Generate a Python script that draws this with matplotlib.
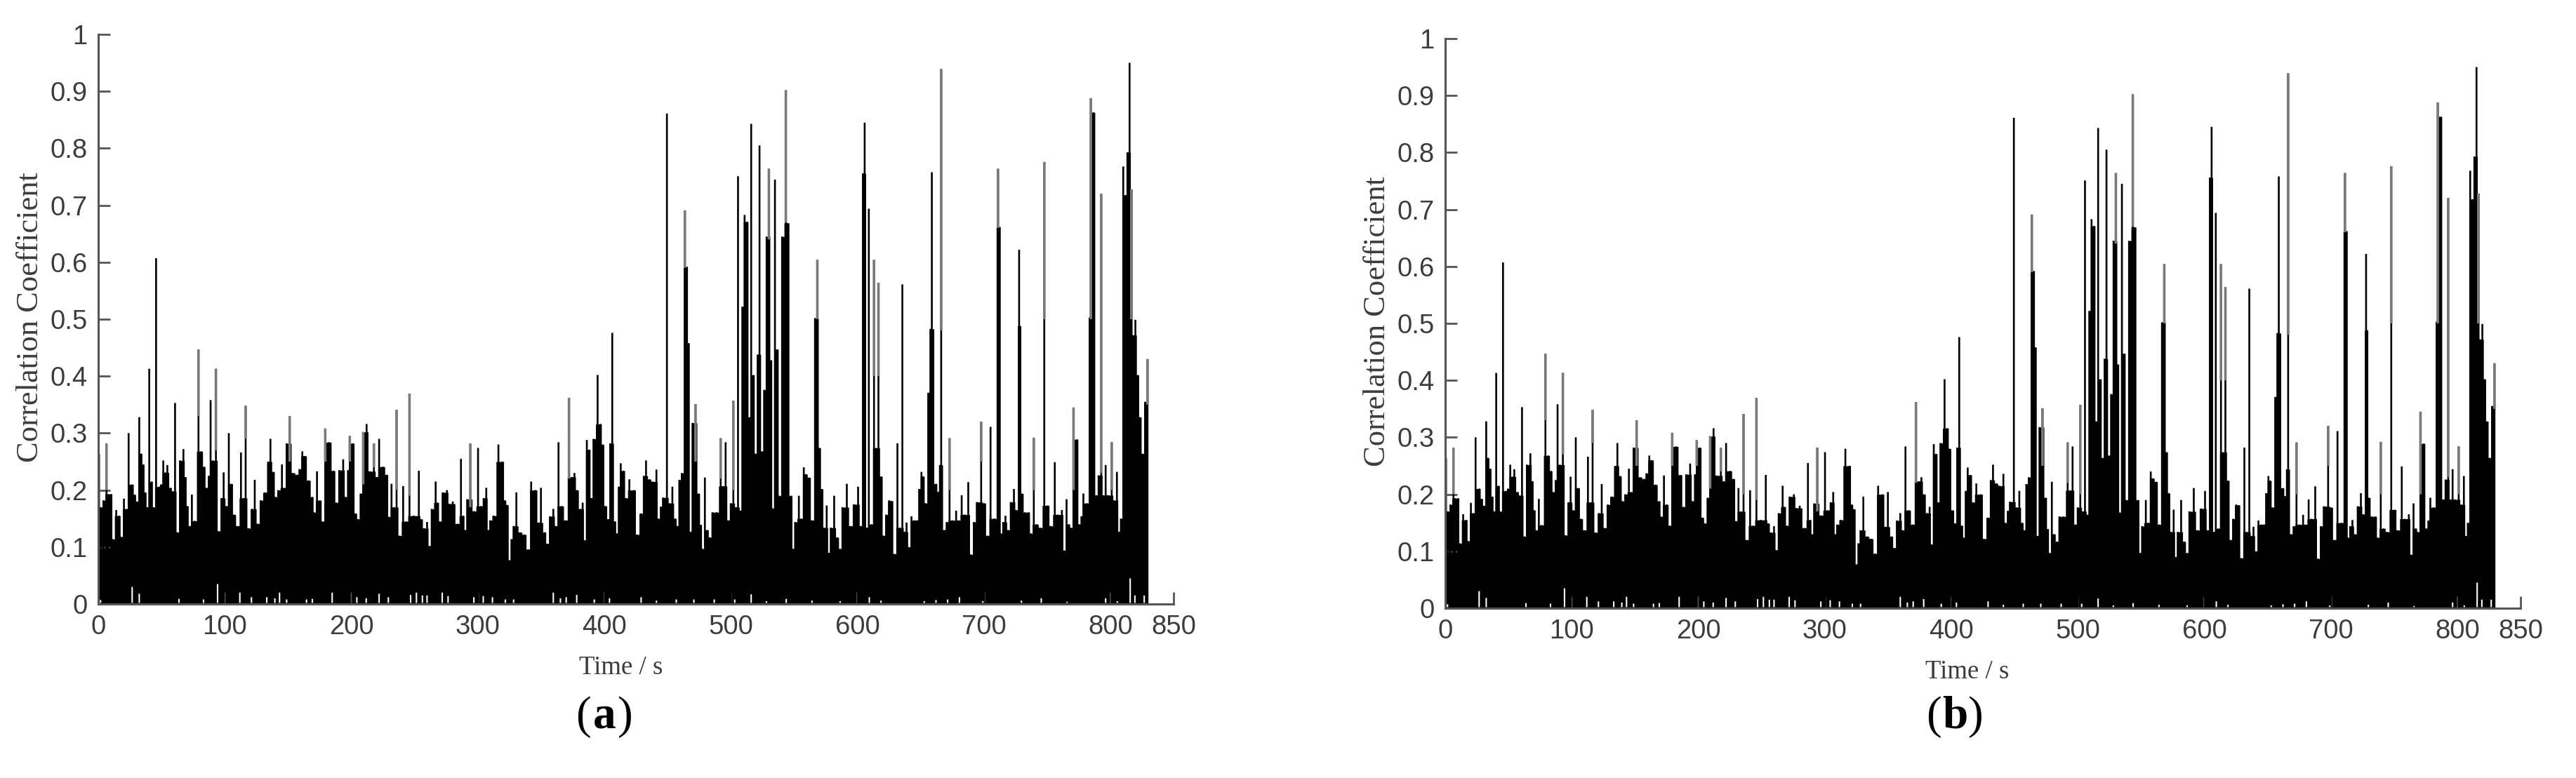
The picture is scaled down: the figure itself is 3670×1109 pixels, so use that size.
#!/usr/bin/env python3
"""
Correlation coefficient over time, two panels (a) and (b)
"""

import matplotlib
matplotlib.use("Agg")
import matplotlib.pyplot as plt
import numpy as np

W, H = 3670, 1109

# spike tops
time_s = [
    0.0, 2.2, 4.1, 6.5, 7.8, 10.2, 11.5, 14.2, 16.6, 18.1, 20.3, 22.2, 24.0, 26.8, 28.7, 30.5,
    32.4, 33.7, 35.5, 37.0, 38.8, 40.3, 42.2, 43.5, 45.7, 48.1, 49.6, 51.4, 53.3, 54.6, 57.0, 58.8,
    60.7, 62.5, 64.7, 67.3, 68.8, 70.3, 72.1, 74.0, 76.2, 79.2, 81.4, 83.6, 85.4, 87.3, 88.8, 90.6,
    93.0, 95.2, 97.5, 99.1, 101.4, 103.2, 105.1, 107.3, 110.0, 112.8, 115.0, 116.5, 118.7, 121.7,
    123.7, 126.1, 128.5, 131.7, 134.6, 136.1, 138.3, 140.2, 142.4, 145.2, 147.0, 148.9, 151.3, 153.9,
    157.2, 159.1, 161.3, 163.1, 166.1, 169.2, 170.5, 172.9, 175.1, 177.5, 179.4, 182.4, 185.9, 188.3,
    190.5, 193.6, 195.5, 197.5, 198.8, 201.2, 203.4, 205.3, 207.5, 209.4, 212.1, 214.5,
    217.9, 220.1, 222.0, 225.1, 227.9, 229.9, 231.8, 233.6, 235.8, 238.2, 241.0, 243.4, 246.0, 249.3,
    253.4, 255.2, 257.5, 259.9, 261.7, 263.6, 266.7, 268.2, 270.0, 272.4, 275.6, 277.4, 280.2, 283.9,
    286.7, 288.5, 289.8, 291.7, 294.1, 297.0, 300.2, 302.4, 304.8, 306.7, 308.3, 309.8, 312.6, 316.3,
    319.6, 321.3, 323.1, 325.2, 326.6, 328.3, 330.5, 333.3, 336.6, 339.9, 342.2, 345.5, 348.1, 349.9,
    352.9, 354.7, 357.3, 359.7, 361.6, 363.8, 366.2, 369.5, 372.1, 374.5, 376.4, 378.2, 381.0, 382.9,
    384.3, 386.2, 388.0, 389.7, 391.5, 394.7, 396.9, 398.6, 400.8, 403.2, 404.7, 406.3, 408.4, 409.7,
    411.5, 413.0, 415.2, 417.1, 419.8, 423.5, 425.9, 429.1, 431.3, 433.0, 435.6, 438.0,
    441.2, 442.5, 444.9, 446.4, 449.5, 451.7, 453.8, 456.0, 457.8, 459.3, 461.3, 463.7, 465.2, 466.5,
    468.0, 469.8, 472.1, 474.5, 476.3, 477.6, 479.5, 481.3, 483.3, 485.6, 488.7, 492.0, 493.9, 495.9,
    498.0, 500.0, 502.0, 504.1, 505.7, 507.8, 509.1, 510.9, 512.8, 514.6, 516.1, 517.9, 519.4, 521.3,
    522.7, 524.6, 526.4, 528.3, 530.1, 531.8, 533.1, 534.9, 536.8, 538.3, 540.7, 543.5, 544.6, 547.5,
    549.4, 550.8, 553.8, 555.7, 557.7, 559.2, 561.8, 564.2, 566.9, 568.4, 570.1, 571.9, 573.8, 575.8,
    577.5, 579.0, 581.7, 584.1, 586.4, 588.2, 591.7, 594.7, 597.5, 600.6, 602.6, 604.5, 605.8, 607.6,
    609.1, 611.1, 613.2, 615.0, 616.7, 618.7, 620.8, 622.8, 625.2, 627.0, 629.3, 631.7, 633.5, 635.6,
    637.2, 638.9, 640.9, 642.8, 645.2, 647.4, 648.9, 650.7, 652.0, 653.9, 656.3, 657.8, 658.9,
    662.2, 663.7, 665.3, 666.3, 668.7, 670.7, 672.9, 675.1, 678.1, 680.1, 682.5, 684.8, 687.7, 689.9,
    692.2, 694.7, 697.9, 700.1, 702.9, 705.3, 708.4, 711.2, 712.5, 713.4, 715.3, 717.1, 719.2, 721.4,
    723.8, 725.4, 727.9, 728.8, 729.9, 732.5, 735.3, 737.1, 739.5, 741.7, 744.5, 747.8, 750.4, 752.8,
    756.1, 758.4, 761.7, 763.5, 765.4, 767.2, 768.7, 770.9, 773.5, 775.4, 777.2, 778.7, 781.5, 783.7,
    784.6, 786.7, 788.9, 790.7, 792.8, 794.4, 796.3, 798.1, 801.1, 803.1, 805.2, 806.8, 808.3, 810.2,
    812.0, 813.5, 815.2, 816.6, 817.9, 819.8, 821.6, 823.4, 825.5, 827.5, 829.4,
]
corr = [
    .264, .17, .182, .282, .193, .193, .114, .165, .155, .118, .185, .167, .30, .21, .192, .18,
    .328, .264, .245, .196, .17, .413, .215, .17, .607, .206, .21, .252, .231, .244, .204, .198,
    .353, .126, .252, .272, .223, .172, .137, .192, .146, .447, .268, .241, .204, .225, .358, .252,
    .413, .128, .186, .231, .172, .30, .211, .157, .137, .266, .186, .348, .133, .167,
    .218, .141, .182, .196, .25, .29, .232, .188, .2, .245, .204, .282, .33, .23,
    .227, .237, .268, .26, .217, .188, .161, .233, .182, .145, .308, .284, .234, .178,
    .235, .254, .188, .235, .295, .282, .159, .149, .194, .302, .316, .233,
    .282, .223, .29, .241, .227, .153, .211, .17, .341, .12, .207, .145, .369, .155,
    .234, .149, .133, .144, .102, .167, .215, .178, .145, .196, .2, .176, .18, .141,
    .255, .155, .13, .184, .282, .163, .274, .172, .186, .204, .13, .147, .155, .28,
    .25, .182, .174, .077, .114, .137, .196, .126, .122, .096, .215, .2, .143, .204,
    .126, .106, .154, .167, .137, .284, .172, .147, .362, .223, .23, .2, .167, .178,
    .112, .288, .271, .186, .29, .402, .316, .28, .172, .149, .282, .476, .145, .124,
    .206, .247, .234, .186, .219, .2, .122, .159, .225, .252, .219, .215,
    .236, .15, .171, .187, .861, .177, .206, .15, .137, .218, .23, .691, .592, .458,
    .127, .318, .351, .194, .139, .097, .222, .13, .117, .161, .161, .291, .207, .284,
    .147, .177, .357, .17, .751, .164, .522, .683, .671, .328, .843, .402, .264, .438,
    .805, .268, .376, .645, .764, .428, .168, .745, .447, .19, .645, .902, .669, .19,
    .097, .144, .19, .15, .24, .228, .222, .147, .502, .604, .274, .202, .134, .173,
    .09, .134, .19, .117, .097, .17, .211, .137, .175, .206, .137, .756, .845, .134,
    .694, .14, .604, .274, .564, .224, .12, .157, .182, .181, .088, .282, .134, .561,
    .127, .143, .1, .154, .147, .147, .202, .232, .224, .177, .371, .483, .758,
    .211, .197, .244, .939, .13, .144, .291, .147, .164, .147, .191, .157, .214, .087,
    .144, .179, .32, .177, .12, .311, .15, .764, .662, .124, .144, .155, .13, .179,
    .202, .165, .622, .488, .194, .161, .161, .124, .292, .14, .134, .776, .173, .137,
    .249, .157, .165, .094, .184, .14, .134, .345, .289, .14, .154, .194, .177, .503,
    .888, .863, .191, .226, .72, .191, .244, .191, .284, .182, .232, .127, .15, .768,
    .718, .793, .95, .728, .472, .499, .402, .328, .264, .355, .43,
]

# spikes whose upper part shows grey in the scan
grey_time = [6.5, 79.2, 93.0, 116.5, 151.3, 179.4, 198.8, 209.4, 217.9, 235.8, 246.0, 294.1, 372.1,
             463.7, 472.1, 492.0, 502.0, 530.1, 543.5, 568.4, 613.2, 616.7, 666.3, 672.9, 697.9,
             711.2, 739.5, 747.8, 770.9, 784.6, 792.8, 801.1, 816.6, 829.4]
grey_low = [.20, .33, .27, .29, .25, .25, .25, .21, .24, .20, .19, .17, .22,
            .59, .25, .22, .20, .64, .67, .50, .40, .40, .48, .20, .25,
            .66, .20, .50, .20, .50, .23, .20, .50, .35]
grey_top = [.282, .447, .413, .348, .33, .308, .295, .302, .282, .341, .369, .282, .362,
            .691, .351, .291, .357, .764, .902, .604, .604, .564, .939, .291, .32,
            .764, .292, .776, .345, .888, .72, .284, .728, .43]

# white slits along the baseline
gap_time = [1.8, 26.8, 32.4, 63.8, 83.2, 94.3, 111.9, 121.1, 133.2, 139.6, 143.3, 148.9, 164.6, 169.2,
            184.9, 204.4, 211.8, 222.0, 229.3, 246.9, 251.5, 256.2, 259.9, 271.9, 276.5, 296.9, 304.3,
            311.6, 321.8, 328.3, 359.7, 365.3, 369.9, 378.2, 392.1, 404.1, 429.1, 441.2, 456.9, 470.8,
            486.9, 503.1, 516.1, 528.1, 543.8, 564.2, 586.4, 609.5, 618.7, 652.9, 662.2, 671.4, 680.7,
            699.2, 729.7, 745.4, 765.8, 796.3, 805.5, 815.7, 819.4, 826.8]
gap_corr = [.007, .03, .018, .009, .008, .035, .02, .012, .012, .01, .02, .008, .008, .009,
            .02, .012, .01, .018, .012, .016, .02, .015, .015, .02, .014, .012, .014,
            .012, .008, .008, .02, .01, .012, .016, .008, .01, .012, .006, .008, .008,
            .008, .008, .017, .005, .009, .006, .005, .012, .006, .005, .007, .008, .012,
            .005, .006, .01, .004, .01, .005, .045, .015, .015]

x_ticks = [0, 100, 200, 300, 400, 500, 600, 700, 800, 850]
y_ticks = [0, 0.1, 0.2, 0.3, 0.4, 0.5, 0.6, 0.7, 0.8, 0.9, 1]
y_tick_labels = ["0", "0.1", "0.2", "0.3", "0.4", "0.5", "0.6", "0.7", "0.8", "0.9", "1"]

AXIS_COLOR = "#555555"
TEXT_COLOR = "#3c3c3c"
SANS = "Liberation Sans"
SERIF = "Liberation Serif"


def solid_level(values):
    """Height of the solid mass: a lone spike only fills up to its taller neighbour"""
    v = np.array(values)
    neighbour = np.maximum(np.r_[v[0], v[:-1]], np.r_[v[1:], v[-1]])
    return np.minimum(v, neighbour)


def draw_panel(fig, left, right, top, bottom, xlabel_xy, ylabel_xy, tag, tag_xy):
    ax = fig.add_axes([left / W, 1 - bottom / H, (right - left) / W, (bottom - top) / H])

    ax.fill_between(time_s, 0, solid_level(corr), step="mid", color="black", lw=0)
    spikes = ax.vlines(time_s, 0, corr, colors="black", linewidth=1.9)
    spikes.set_snap(False)
    grey = ax.vlines(grey_time, grey_low, grey_top, colors="#7a7a7a", linewidth=2.6)
    grey.set_snap(False)
    gaps = ax.vlines(gap_time, 0.002, gap_corr, colors="white", linewidth=1.5)
    gaps.set_snap(False)

    ax.set_xlim(0, 850)
    ax.set_ylim(0, 1)
    ax.set_xticks(x_ticks)
    ax.set_yticks(y_ticks)
    ax.set_yticklabels(y_tick_labels)
    for spine in ("top", "right"):
        ax.spines[spine].set_visible(False)
    for spine in ("left", "bottom"):
        ax.spines[spine].set_color(AXIS_COLOR)
        ax.spines[spine].set_linewidth(2.2)
    ax.tick_params(direction="in", length=12, width=2.0, color=AXIS_COLOR,
                   labelsize=27.5, labelcolor=TEXT_COLOR, pad=11)
    for lab in ax.get_xticklabels() + ax.get_yticklabels():
        lab.set_family(SANS)

    fig.text(xlabel_xy[0] / W, 1 - xlabel_xy[1] / H, "Time / s", family=SERIF, fontsize=26.5,
             color=TEXT_COLOR, ha="center", va="center")
    fig.text(ylabel_xy[0] / W, 1 - ylabel_xy[1] / H, "Correlation Coefficient", family=SERIF,
             fontsize=32, color=TEXT_COLOR, rotation=90, ha="center", va="center")

    # panel tag: upright brackets, bold letter
    fig.text((tag_xy[0] - 19) / W, 1 - tag_xy[1] / H, "(", family=SERIF, fontsize=47,
             color="black", ha="right", va="center")
    fig.text(tag_xy[0] / W, 1 - tag_xy[1] / H, tag, family=SERIF, fontsize=47, fontweight="bold",
             color="black", ha="center", va="center")
    fig.text((tag_xy[0] + 19) / W, 1 - tag_xy[1] / H, ")", family=SERIF, fontsize=47,
             color="black", ha="left", va="center")
    return ax


def main():
    fig = plt.figure(figsize=(W / 100, H / 100), dpi=100, facecolor="white")
    draw_panel(fig, 140, 1672, 49, 861, (885, 952), (43, 452), "a", (861, 1022))
    draw_panel(fig, 2059, 3591, 55, 867, (2803, 958), (1962, 458), "b", (2785, 1022))
    fig.savefig("out.png", dpi=100)


if __name__ == "__main__":
    main()
